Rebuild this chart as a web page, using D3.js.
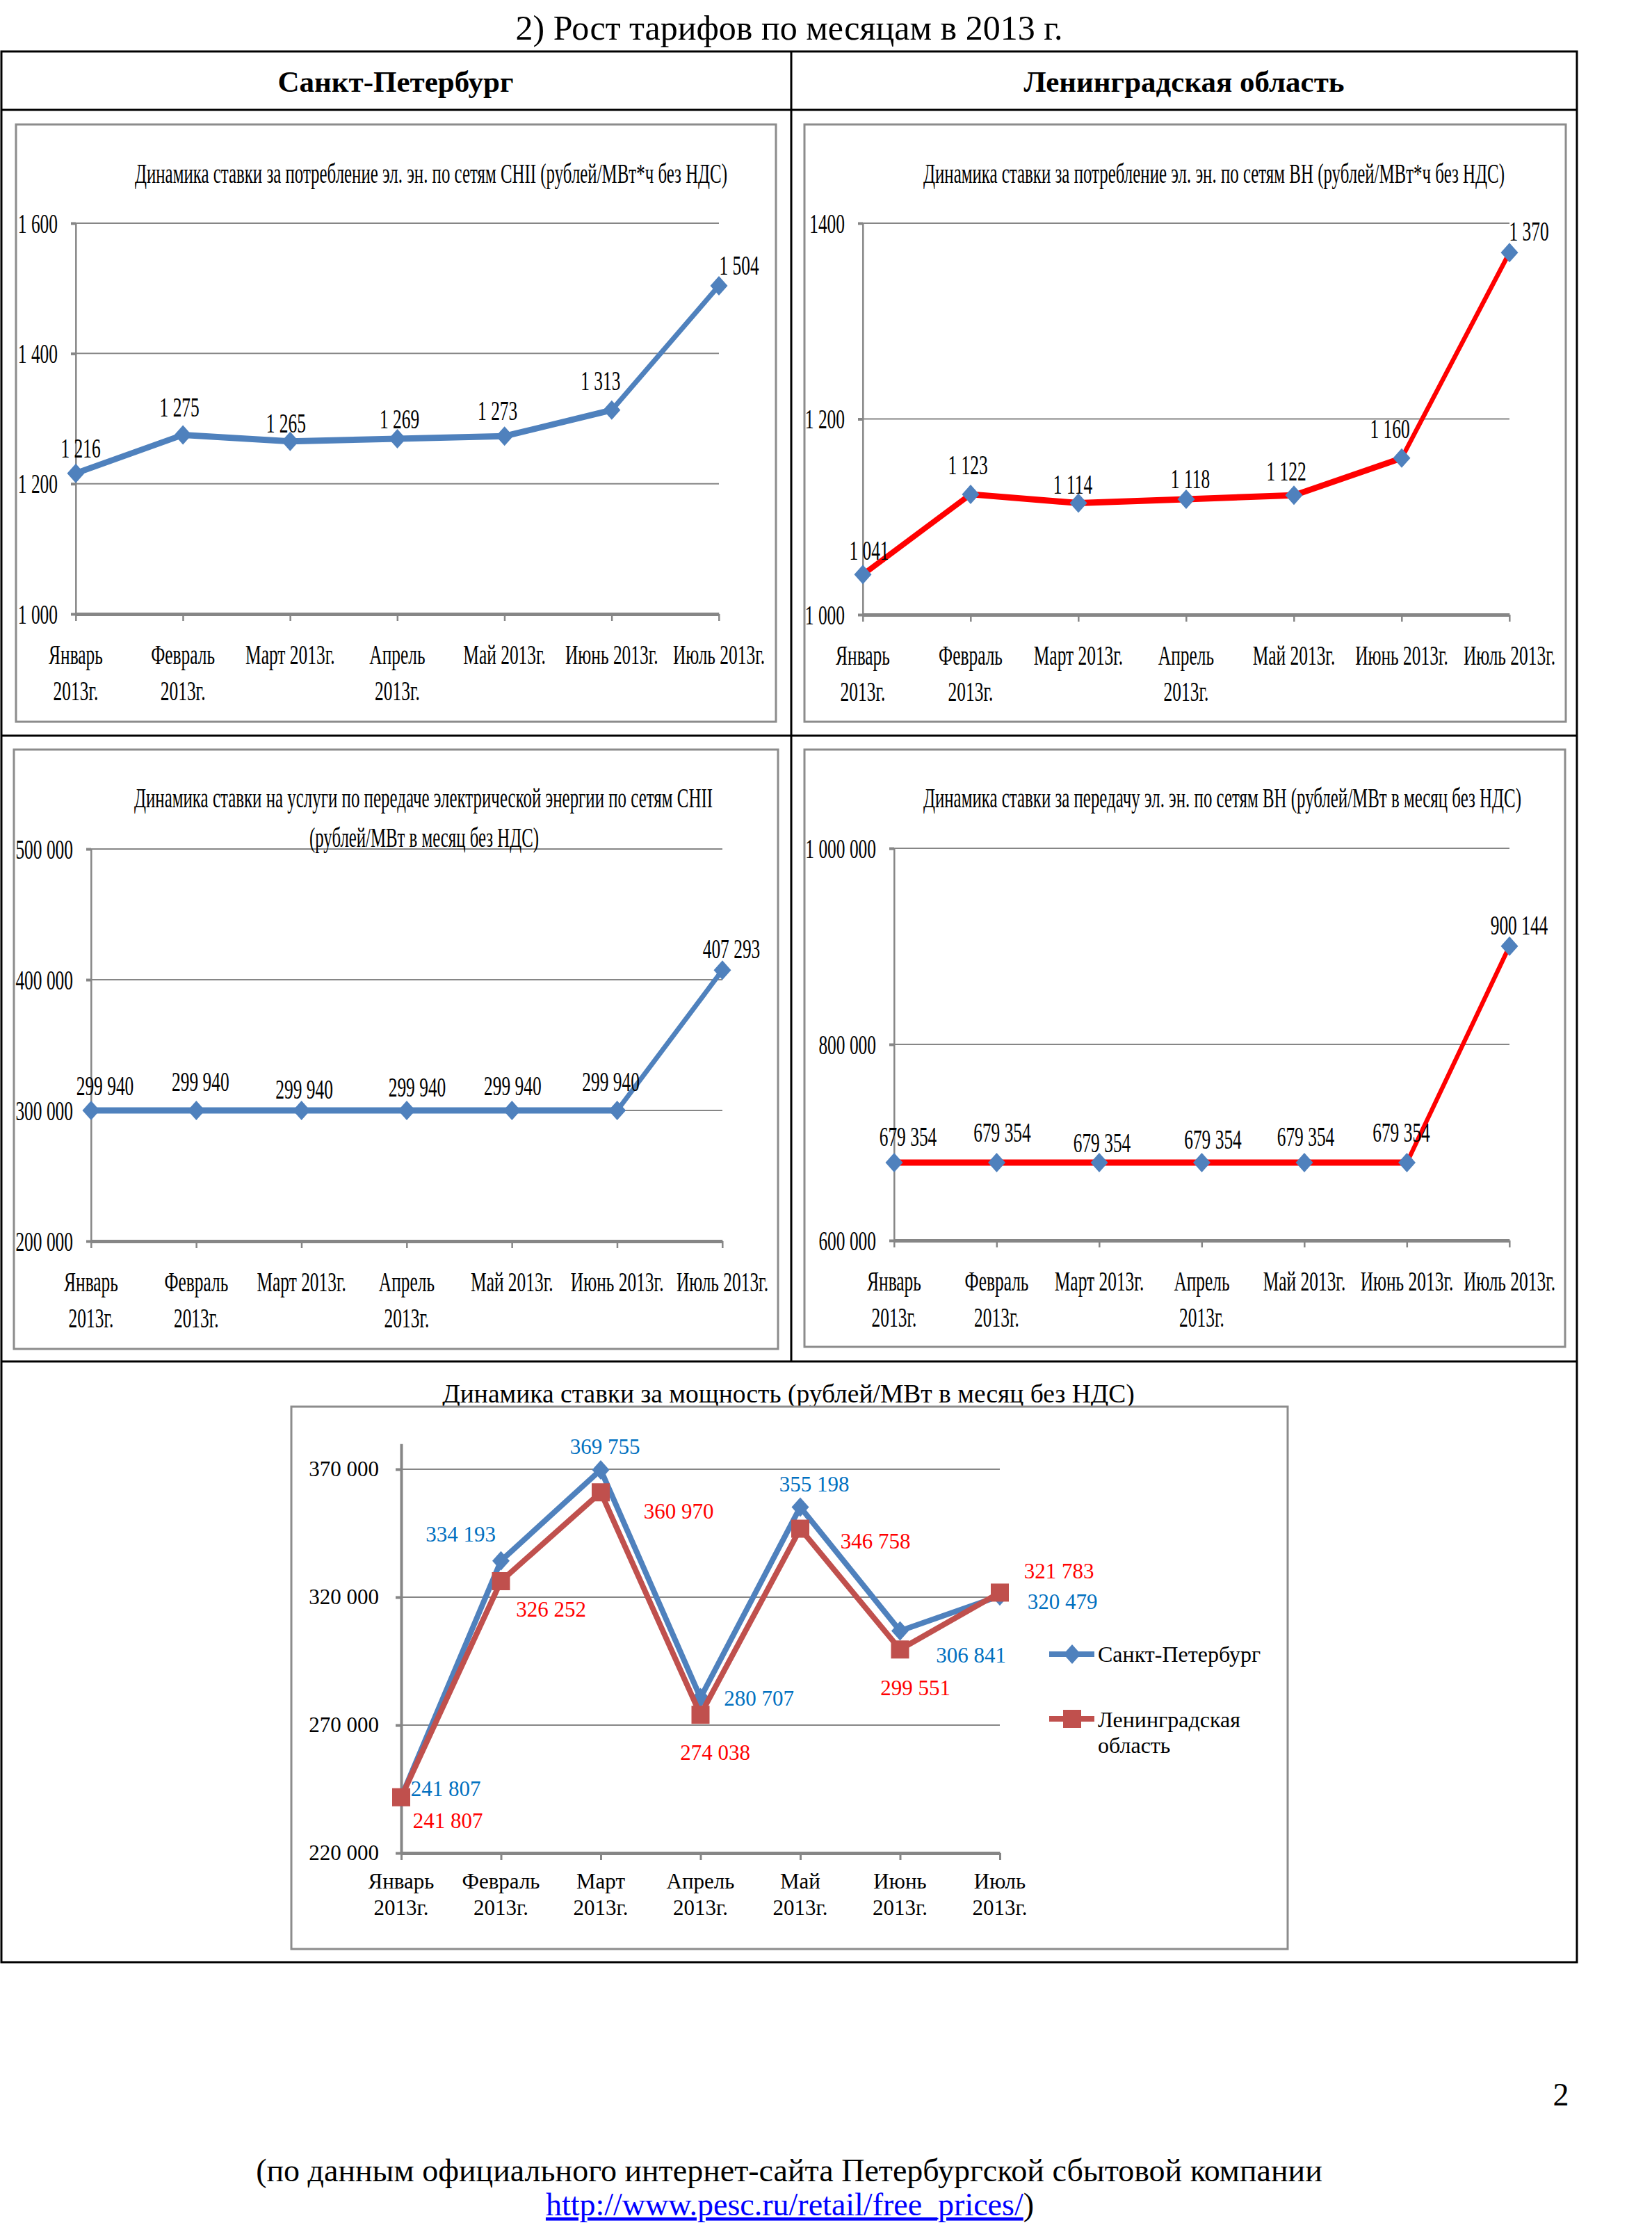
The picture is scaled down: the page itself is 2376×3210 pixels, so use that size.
<!DOCTYPE html>
<html><head><meta charset="utf-8">
<script src="https://cdn.jsdelivr.net/npm/d3@7"></script>
<style>body{margin:0;background:#fff}</style>
</head><body><script>
// ---------------- DATA ----------------
const categories = ["Январь 2013г.","Февраль 2013г.","Март 2013г.","Апрель 2013г.","Май 2013г.","Июнь 2013г.","Июль 2013г."];
const catLinesTop = [["Январь","2013г."],["Февраль","2013г."],["Март 2013г."],["Апрель","2013г."],["Май 2013г."],["Июнь 2013г."],["Июль 2013г."]];
const catLinesBottom = [["Январь","2013г."],["Февраль","2013г."],["Март","2013г."],["Апрель","2013г."],["Май","2013г."],["Июнь","2013г."],["Июль","2013г."]];
const spbConsumption = [1216,1275,1265,1269,1273,1313,1504];
const loConsumption = [1041,1123,1114,1118,1122,1160,1370];
const spbTransmission = [299940,299940,299940,299940,299940,299940,407293];
const loTransmission = [679354,679354,679354,679354,679354,679354,900144];
const spbPower = [241807,334193,369755,280707,355198,306841,320479];
const loPower = [241807,326252,360970,274038,346758,299551,321783];
const ticksConsSpb = [1000,1200,1400,1600];
const ticksConsLo = [1000,1200,1400];
const ticksTransSpb = [200000,300000,400000,500000];
const ticksTransLo = [600000,800000,1000000];
const ticksPower = [220000,270000,320000,370000];
const seriesNames = ["Санкт-Петербург","Ленинградская область"];
const pageTitle = "2) Рост тарифов по месяцам в 2013 г.";
const colHeaders = ["Санкт-Петербург","Ленинградская область"];
const title1 = ["Динамика ставки за потребление эл. эн. по сетям СНII (рублей/МВт*ч без НДС)"];
const title2 = ["Динамика ставки за потребление эл. эн. по сетям ВН (рублей/МВт*ч без НДС)"];
const title3 = ["Динамика ставки на услуги по передаче электрической энергии по сетям СНII","(рублей/МВт в месяц без НДС)"];
const title4 = ["Динамика ставки за передачу эл. эн. по сетям ВН (рублей/МВт в месяц без НДС)"];
const title5 = "Динамика ставки за мощность (рублей/МВт в месяц без НДС)";
const footerText = "(по данным официального интернет-сайта Петербургской сбытовой компании";
const footerLink = "http://www.pesc.ru/retail/free_prices/";
const pageNumber = "2";

// ---------------- LAYOUT ----------------
const W = 2376, H = 3210, SX = 0.62;
const FONT = "'Liberation Serif','Times New Roman',serif";
const GRID = "#868686", BLUE = "#4f81bd", RED = "#ff0000", DRED = "#c0504d";
const fmt = d => d3.format(",")(d).replace(/,/g, " ");

const svg = d3.select("body").append("svg").attr("width", W).attr("height", H);
svg.append("rect").attr("width", W).attr("height", H).attr("fill", "#fff");

// page title & table
svg.append("text").attr("x", 1135).attr("y", 57).attr("text-anchor", "middle")
  .attr("font-family", FONT).attr("font-size", 50).text(pageTitle);
const tbl = svg.append("g").attr("stroke", "#000").attr("stroke-width", 3).attr("fill", "none");
tbl.append("rect").attr("x", 2).attr("y", 74).attr("width", 2266).attr("height", 2748);
[158, 1058, 1958].forEach(yy => tbl.append("line").attr("x1", 2).attr("x2", 2268).attr("y1", yy).attr("y2", yy));
tbl.append("line").attr("x1", 1138).attr("x2", 1138).attr("y1", 74).attr("y2", 1958);
svg.selectAll(".hdr").data(colHeaders).join("text").attr("class", "hdr")
  .attr("x", (d, i) => i === 0 ? 569 : 1703).attr("y", 132).attr("text-anchor", "middle")
  .attr("font-family", FONT).attr("font-weight", "bold").attr("font-size", 43).text(d => d);

function diamondPath(w, h) { return `M0,${-h}L${w},0L0,${h}L${-w},0Z`; }

function smallChart(c) {
  const [fx0, fy0, fx1, fy1] = c.frame;
  svg.append("rect").attr("x", fx0).attr("y", fy0).attr("width", fx1 - fx0).attr("height", fy1 - fy0)
    .attr("fill", "#fff").attr("stroke", "#8c8c8c").attr("stroke-width", 3);
  const ox = fx0;
  const ix = X => ox + (X - ox) / SX;
  const g = svg.append("g").attr("transform", `translate(${ox},0) scale(${SX},1) translate(${-ox},0)`);
  const x = d3.scalePoint().domain(categories).range([ix(c.px0), ix(c.px1)]).padding(0);
  const y = d3.scaleLinear().domain([c.ticks[0], c.yMax]).range([c.yBottom, c.yTop]);
  g.append("g").selectAll("line").data(c.ticks.slice(1)).join("line")
    .attr("x1", x.range()[0]).attr("x2", x.range()[1]).attr("y1", d => y(d)).attr("y2", d => y(d))
    .attr("stroke", GRID).attr("stroke-width", 2);
  const ya = g.append("g").attr("transform", `translate(${x.range()[0]},0)`)
    .call(d3.axisLeft(y).tickValues(c.ticks).tickSize(7 / SX).tickSizeOuter(0).tickPadding(19 / SX).tickFormat(c.tickFmt || fmt));
  ya.select(".domain").attr("stroke", GRID).attr("stroke-width", 4);
  ya.selectAll(".tick line").attr("stroke", GRID).attr("stroke-width", 4);
  ya.selectAll(".tick text").attr("font-family", FONT).attr("font-size", 41).attr("fill", "#000");
  const xa = g.append("g").attr("transform", `translate(0,${c.yBottom})`)
    .call(d3.axisBottom(x).tickSize(10).tickSizeOuter(0).tickFormat(""));
  xa.select(".domain").attr("stroke", GRID).attr("stroke-width", 5);
  xa.selectAll(".tick line").attr("stroke", GRID).attr("stroke-width", 4);
  const xl = g.append("g").attr("font-family", FONT).attr("font-size", 41).attr("text-anchor", "middle");
  categories.forEach((cat, i) => {
    catLinesTop[i].forEach((ln, k) => {
      xl.append("text").attr("x", x(cat)).attr("y", c.yBottom + (k === 0 ? 58 : 110))
        .attr("dominant-baseline", "central").text(ln);
    });
  });
  c.title.forEach((t, k) => {
    g.append("text").attr("x", ix(c.titleX[k])).attr("y", c.titleY[k]).attr("dominant-baseline", "central")
      .attr("text-anchor", "middle").attr("font-family", FONT).attr("font-size", 41)
      .attr("textLength", c.titleW[k] / SX).attr("lengthAdjust", "spacingAndGlyphs").text(t);
  });
  const line = d3.line().x((d, i) => x(categories[i])).y(d => y(d));
  g.append("path").datum(c.values).attr("d", line).attr("fill", "none")
    .attr("stroke", c.lineColor).attr("stroke-width", 9).attr("stroke-linejoin", "round");
  g.append("g").selectAll("path").data(c.values).join("path")
    .attr("transform", (d, i) => `translate(${x(categories[i])},${y(d)})`)
    .attr("d", diamondPath(12.5 / SX, 14)).attr("fill", BLUE);
  g.append("g").selectAll("text").data(c.values).join("text")
    .attr("x", (d, i) => x(categories[i]) + c.lblDx[i] / SX).attr("y", (d, i) => y(d) + c.lblDy[i])
    .attr("text-anchor", "middle").attr("dominant-baseline", "central")
    .attr("font-family", FONT).attr("font-size", 41).attr("fill", "#000").text(d => fmt(d));
}

smallChart({
  frame: [23, 179, 1116, 1038], px0: 109, px1: 1034, yBottom: 883, yTop: 321, yMax: 1600,
  ticks: ticksConsSpb, values: spbConsumption, lineColor: BLUE,
  title: title1, titleX: [620], titleY: [249], titleW: [852],
  lblDx: [7, -5, -6, 3, -10, -16, 29], lblDy: [-36, -40, -27, -29, -37, -43, -30]
});
smallChart({
  frame: [1157, 179, 2252, 1038], px0: 1241, px1: 2171, yBottom: 884, yTop: 321, yMax: 1400,
  ticks: ticksConsLo, values: loConsumption, lineColor: RED,
  tickFmt: d => d === 1400 ? "1400" : fmt(d),
  title: title2, titleX: [1746], titleY: [249], titleW: [836],
  lblDx: [9, -4, -8, 6, -11, -17, 28], lblDy: [-35, -43, -27, -30, -35, -43, -31]
});
smallChart({
  frame: [20, 1078, 1119, 1940], px0: 131, px1: 1039, yBottom: 1785, yTop: 1221, yMax: 500000,
  ticks: ticksTransSpb, values: spbTransmission, lineColor: BLUE,
  title: title3, titleX: [609, 610], titleY: [1147, 1204], titleW: [832, 330],
  lblDx: [20, 6, 4, 15, 1, -9, 13], lblDy: [-36, -42, -31, -34, -36, -42, -31]
});
smallChart({
  frame: [1157, 1078, 2251, 1937], px0: 1286, px1: 2171, yBottom: 1784, yTop: 1220, yMax: 1000000,
  ticks: ticksTransLo, values: loTransmission, lineColor: RED,
  title: title4, titleX: [1758], titleY: [1147], titleW: [860],
  lblDx: [20, 8, 4, 16, 2, -8, 14], lblDy: [-38, -44, -29, -34, -38, -44, -31]
});

// ---------------- BOTTOM CHART ----------------
(function () {
  svg.append("text").attr("x", 1134).attr("y", 2004).attr("dominant-baseline", "central").attr("text-anchor", "middle")
    .attr("font-family", FONT).attr("font-size", 37.5).text(title5);
  svg.append("rect").attr("x", 419).attr("y", 2023).attr("width", 1433).attr("height", 780)
    .attr("fill", "#fff").attr("stroke", "#8c8c8c").attr("stroke-width", 3);
  const g = svg.append("g");
  const x = d3.scalePoint().domain(categories).range([577, 1438]).padding(0);
  const y = d3.scaleLinear().domain([220000, 380000]).range([2665, 2665 - 160000 * 184 / 50000]);
  g.append("g").selectAll("line").data(ticksPower.slice(1)).join("line")
    .attr("x1", 577).attr("x2", 1438).attr("y1", d => y(d)).attr("y2", d => y(d))
    .attr("stroke", GRID).attr("stroke-width", 2);
  const ya = g.append("g").attr("transform", "translate(577,0)")
    .call(d3.axisLeft(y).tickValues(ticksPower).tickSize(8).tickSizeOuter(0).tickPadding(24).tickFormat(fmt));
  ya.select(".domain").attr("stroke", GRID).attr("stroke-width", 4);
  ya.selectAll(".tick line").attr("stroke", GRID).attr("stroke-width", 4);
  ya.selectAll(".tick text").attr("font-family", FONT).attr("font-size", 31).attr("fill", "#000");
  const xa = g.append("g").attr("transform", "translate(0,2665)")
    .call(d3.axisBottom(x).tickSize(10).tickSizeOuter(0).tickFormat(""));
  xa.select(".domain").attr("stroke", GRID).attr("stroke-width", 5);
  xa.selectAll(".tick line").attr("stroke", GRID).attr("stroke-width", 3);
  const xl = g.append("g").attr("font-family", FONT).attr("font-size", 31).attr("text-anchor", "middle");
  categories.forEach((cat, i) => {
    catLinesBottom[i].forEach((ln, k) => {
      xl.append("text").attr("x", x(cat)).attr("y", 2705 + k * 38).attr("dominant-baseline", "central").text(ln);
    });
  });
  const line = d3.line().x((d, i) => x(categories[i])).y(d => y(d));
  const series = [
    { vals: spbPower, color: BLUE, lbl: "#0070c0", marker: "diamond",
      dx: [64, -58, 6, 84, 20, 102, 90], dy: [-12, -38, -33, 1, -33, 35, 8] },
    { vals: loPower, color: DRED, lbl: "#ff0000", marker: "square",
      dx: [67, 72, 112, 21, 108, 22, 85], dy: [34, 41, 27, 54, 18, 55, -31] }
  ];
  series.forEach(s => {
    g.append("path").datum(s.vals).attr("d", line).attr("fill", "none").attr("stroke", s.color)
      .attr("stroke-width", 8).attr("stroke-linejoin", "round");
    g.append("g").selectAll("path").data(s.vals).join("path")
      .attr("transform", (d, i) => `translate(${x(categories[i])},${y(d)})`)
      .attr("d", s.marker === "diamond" ? diamondPath(12.5, 14) : "M-13,-13H13V13H-13Z")
      .attr("fill", s.color);
  });
  series.forEach(s => {
    g.append("g").selectAll("text").data(s.vals).join("text")
      .attr("x", (d, i) => x(categories[i]) + s.dx[i]).attr("y", (d, i) => y(d) + s.dy[i])
      .attr("text-anchor", "middle").attr("dominant-baseline", "central")
      .attr("font-family", FONT).attr("font-size", 31).attr("fill", s.lbl).text(d => fmt(d));
  });
  const lg = g.append("g").attr("font-family", FONT).attr("font-size", 32);
  lg.append("line").attr("x1", 1509).attr("x2", 1574).attr("y1", 2379).attr("y2", 2379).attr("stroke", BLUE).attr("stroke-width", 8);
  lg.append("path").attr("transform", "translate(1542,2379)").attr("d", diamondPath(12.5, 14)).attr("fill", BLUE);
  lg.append("text").attr("x", 1579).attr("y", 2379).attr("dominant-baseline", "central").text(seriesNames[0]);
  lg.append("line").attr("x1", 1509).attr("x2", 1574).attr("y1", 2472).attr("y2", 2472).attr("stroke", DRED).attr("stroke-width", 8);
  lg.append("path").attr("transform", "translate(1542,2472)").attr("d", "M-13,-13H13V13H-13Z").attr("fill", DRED);
  lg.append("text").attr("x", 1579).attr("y", 2473).attr("dominant-baseline", "central").text("Ленинградская");
  lg.append("text").attr("x", 1579).attr("y", 2510).attr("dominant-baseline", "central").text("область");
})();

// ---------------- FOOTER ----------------
svg.append("text").attr("x", 2245).attr("y", 3028).attr("text-anchor", "middle")
  .attr("font-family", FONT).attr("font-size", 46).text(pageNumber);
svg.append("text").attr("x", 1135).attr("y", 3137).attr("text-anchor", "middle")
  .attr("font-family", FONT).attr("font-size", 46).text(footerText);
const ft = svg.append("text").attr("x", 1136).attr("y", 3186).attr("text-anchor", "middle")
  .attr("font-family", FONT).attr("font-size", 46);
ft.append("tspan").attr("fill", "#0000ff").attr("text-decoration", "underline").text(footerLink);
ft.append("tspan").attr("fill", "#000").text(")");
</script></body></html>
